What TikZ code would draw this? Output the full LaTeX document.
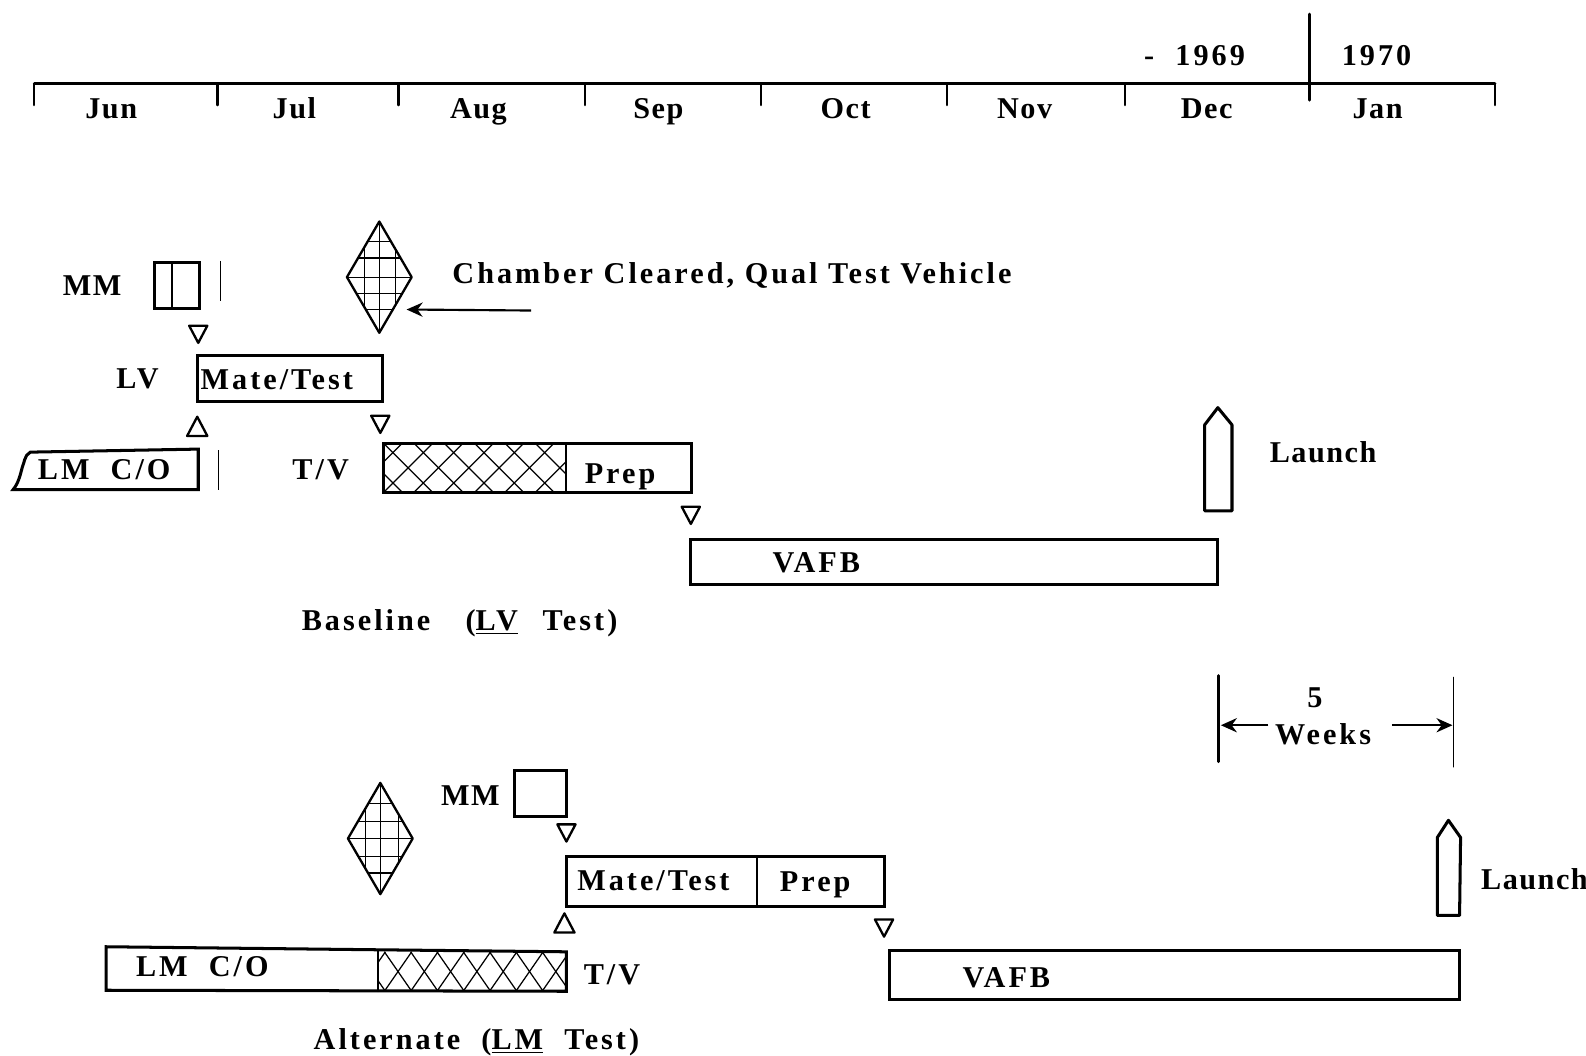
\documentclass[tikz,border=0pt]{standalone}
\usepackage{fontspec}
\setmainfont[LetterSpace=10]{Liberation Serif}
\usetikzlibrary{arrows.meta}

\tikzset{
    label/.style={inner sep=0pt, text height=11pt, text depth=0pt, font=\fontsize{17}{19}\selectfont\bfseries},
    tightlabel/.style={label, font=\fontsize{17}{19}\selectfont\bfseries\addfontfeatures{LetterSpace=5}},
    bar/.style={line width=1.7pt, line cap=round},
    marker/.style={line width=1.3pt, line join=round},
    hatch/.style={line width=0.7pt},
    pointer/.style={-{Stealth[length=9pt, width=8pt]}, line width=1.2pt},
}

\begin{document}
\begin{tikzpicture}[x=0.02cm, y=-0.02cm]
    \useasboundingbox (0,0) rectangle (1568,1044);

    % --- Time axis ---
    \draw[bar] (34,83) -- (1478,83);
    \foreach \x in {34, 215, 394, 578, 752, 936, 1112, 1478}
        \draw[bar, line width=1.2pt] (\x,83) -- (\x,104);
    \draw[bar] (1295,14) -- (1295,99);
    \foreach \m/\x in {Jun/110, Jul/291, Aug/473, Sep/651, Oct/836, Nov/1013, Dec/1193, Jan/1362}
        \node[tightlabel] (month\m) at (\x,107) {\m};
    \node[label] (yearold) at (1181,55) {-\ \ 1969};
    \node[label] (yearnew) at (1361,55) {1970};

    % --- Diamonds with their grid ---
    \foreach \cx/\cy/\ga/\gb/\gc/\ha/\hb/\hc/\hd/\he in {375/274/360/375/391/239/255/274/290/306, 376/829/361/376/394/794/812/829/847/863} {
        \begin{scope}
            \clip (\cx,\cy-55) -- (\cx+32,\cy) -- (\cx,\cy+55) -- (\cx-32,\cy) -- cycle;
            \foreach \x in {\ga, \gb, \gc}
                \draw[hatch] (\x,\cy-55) -- (\x,\cy+55);
            \foreach \y in {\ha, \hb, \hc, \hd, \he}
                \draw[hatch] (\cx-32,\y) -- (\cx+32,\y);
        \end{scope}
        \draw[marker] (\cx,\cy-55) -- (\cx+32,\cy) -- (\cx,\cy+55) -- (\cx-32,\cy) -- cycle;
    }

    % --- Small triangles ---
    \foreach \x/\y in {196/330, 376/419, 683/509, 560/823, 874/917}
        \draw[marker] (\x-9,\y-8) -- (\x+9,\y-8) -- (\x,\y+9) -- cycle;
    \foreach \x/\y in {195/422, 558/913}
        \draw[marker] (\x-10,\y+9) -- (\x+10,\y+9) -- (\x,\y-10) -- cycle;

    % --- Baseline ---
    \node[tightlabel] (mmone) at (91,282) {MM};
    \draw[bar] (153,260) rectangle (197,305);
    \draw[hatch] (170,260) -- (170,305);
    \draw[hatch] (218,258) -- (218,298);

    \node[label, anchor=west] (chamber) at (447,271) {Chamber Cleared, Qual Test Vehicle};
    \coordinate (chambertail) at (525,307);
    \coordinate (chamberhead) at (402,306);
    \draw[pointer] (chambertail) -- (chamberhead);

    \node[label] (lvone) at (136,374) {LV};
    \draw[bar] (195,351) rectangle (378,397);
    \node[label, anchor=west] (mateone) at (198,375) {Mate/Test};

    % Torn left end of the C/O bar
    \draw[bar] (196,444) -- (30,447) .. controls (24,450) and (24,458) .. (22,462) .. controls (20,470) and (18,478) .. (13,484) -- (196,484) -- cycle;
    \node[label] (lmone) at (103,464) {LM\ \ C/O};
    \draw[line width=1pt] (216,445) -- (216,484);

    \node[label] (tvone) at (317,464) {T/V};
    \begin{scope}
        \clip (379,438) rectangle (560,487);
        \foreach \x in {319, 349, ..., 560} {
            \draw[hatch] (\x,438) -- ++(49,49);
            \draw[hatch] (\x+49,438) -- ++(-49,49);
        }
    \end{scope}
    \draw[bar] (379,438) rectangle (684,487);
    \draw[bar, line width=1.1pt] (560,438) -- (560,487);
    \node[label] (prepone) at (613,468) {Prep};

    \draw[bar] (683,533) rectangle (1204,578);
    \node[label] (vafbone) at (807,556) {VAFB};

    \draw[bar, line join=round] (1191,505) -- (1191,420) -- (1204,403) -- (1218,420) -- (1218,505) -- cycle;
    \node[tightlabel, anchor=west] (launchone) at (1255,448) {Launch};
    \node[label, anchor=west] (baseline) at (298,614) {Baseline\ \ \ \hspace{2pt}(\underline{LV}\ \ \hspace{2pt}Test)};

    % --- Five weeks span ---
    \draw[bar] (1205,668) -- (1205,753);
    \draw[bar, line width=1.1pt] (1437,670) -- (1437,758);
    \node[label] (five) at (1300,690) {5};
    \node[label] (weeks) at (1308,726) {Weeks};
    \coordinate (spanleft) at (1207,717);
    \coordinate (spanright) at (1436,717);
    \coordinate (spanlefttail) at (1254,717);
    \coordinate (spanrighttail) at (1376,717);
    \draw[pointer] (spanlefttail) -- (spanleft);
    \draw[pointer] (spanrighttail) -- (spanright);

    % --- Alternate ---
    \node[tightlabel] (mmtwo) at (465,787) {MM};
    \draw[bar] (509,762) rectangle (560,807);

    \draw[bar] (560,847) rectangle (874,896);
    \draw[bar, line width=1.1pt] (748,847) -- (748,896);
    \node[label] (matetwo) at (646,871) {Mate/Test};
    \node[label] (preptwo) at (806,872) {Prep};

    \begin{scope}
        \clip (374,941) rectangle (560,980);
        \foreach \x in {354, 380, ..., 560} {
            \draw[hatch] (\x,941) -- ++(27,39);
            \draw[hatch] (\x+27,941) -- ++(-27,39);
        }
    \end{scope}
    \draw[bar] (105,936) -- (374,939) -- (560,941) -- (560,980) -- (105,979) -- cycle;
    \draw[bar, line width=1.1pt] (374,939) -- (374,980);
    \node[label] (lmtwo) at (200,956) {LM\ \ C/O};
    \node[label] (tvtwo) at (605,964) {T/V};

    \draw[bar] (879,940) rectangle (1443,988);
    \node[label] (vafbtwo) at (995,967) {VAFB};

    \draw[bar, line join=round] (1421,905) -- (1421,828) -- (1432,811) -- (1444,828) -- (1443,905) -- cycle;
    \node[tightlabel, anchor=west] (launchtwo) at (1464,870) {Launch};
    \node[label] (alternate) at (471,1028) {Alternate\ \ (\underline{LM}\ \ Test)};
\end{tikzpicture}
\end{document}
